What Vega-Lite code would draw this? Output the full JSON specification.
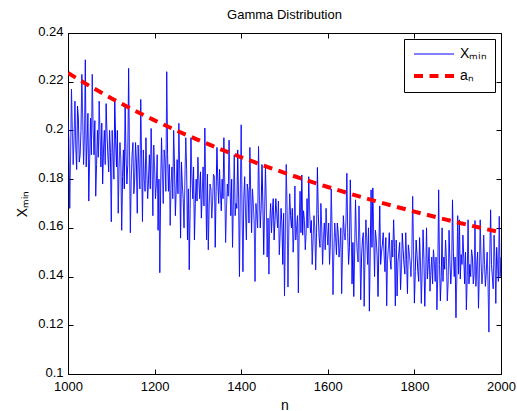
{
  "$schema": "https://vega.github.io/schema/vega-lite/v6.json",
  "width": 433,
  "height": 341,
  "autosize": {"type": "none"},
  "padding": {"left": 68, "top": 33, "right": 16, "bottom": 37},
  "background": "white",
  "title": {"text": "Gamma Distribution", "fontSize": 13, "fontWeight": "normal", "font": "Liberation Sans", "color": "black", "offset": 3},
  "config": {
    "view": {"stroke": "black", "strokeWidth": 1},
    "font": "Liberation Sans",
    "axis": {
      "grid": false,
      "domainColor": "black",
      "tickColor": "black",
      "tickSize": -5,
      "labelPadding": 10,
      "labelFlush": false,
      "labelFont": "Liberation Sans",
      "labelFontSize": 13,
      "labelColor": "black",
      "titleFont": "Liberation Sans",
      "titleFontSize": 14,
      "titleFontWeight": "normal",
      "titleColor": "black"
    }
  },
  "data": {"values": [
    {"n":1000,"v":0.205,"s":"x"},{"n":1004,"v":0.168,"s":"x"},{"n":1008,"v":0.217,"s":"x"},{"n":1012,"v":0.186,"s":"x"},{"n":1016,"v":0.212,"s":"x"},{"n":1020,"v":0.184,"s":"x"},{"n":1024,"v":0.205,"s":"x"},{"n":1028,"v":0.19,"s":"x"},{"n":1032,"v":0.223,"s":"x"},{"n":1036,"v":0.186,"s":"x"},
    {"n":1040,"v":0.229,"s":"x"},{"n":1044,"v":0.195,"s":"x"},{"n":1048,"v":0.171,"s":"x"},{"n":1052,"v":0.205,"s":"x"},{"n":1056,"v":0.223,"s":"x"},{"n":1060,"v":0.19,"s":"x"},{"n":1064,"v":0.173,"s":"x"},{"n":1068,"v":0.2,"s":"x"},{"n":1072,"v":0.212,"s":"x"},{"n":1076,"v":0.185,"s":"x"},
    {"n":1080,"v":0.178,"s":"x"},{"n":1084,"v":0.2,"s":"x"},{"n":1088,"v":0.211,"s":"x"},{"n":1092,"v":0.19,"s":"x"},{"n":1096,"v":0.2,"s":"x"},{"n":1100,"v":0.1625,"s":"x"},{"n":1104,"v":0.19,"s":"x"},{"n":1108,"v":0.2125,"s":"x"},{"n":1112,"v":0.185,"s":"x"},{"n":1116,"v":0.166,"s":"x"},
    {"n":1120,"v":0.195,"s":"x"},{"n":1124,"v":0.159,"s":"x"},{"n":1128,"v":0.192,"s":"x"},{"n":1132,"v":0.21,"s":"x"},{"n":1136,"v":0.178,"s":"x"},{"n":1140,"v":0.2255,"s":"x"},{"n":1144,"v":0.158,"s":"x"},{"n":1148,"v":0.19,"s":"x"},{"n":1152,"v":0.174,"s":"x"},{"n":1156,"v":0.195,"s":"x"},
    {"n":1160,"v":0.166,"s":"x"},{"n":1164,"v":0.185,"s":"x"},{"n":1168,"v":0.2127,"s":"x"},{"n":1172,"v":0.1626,"s":"x"},{"n":1176,"v":0.18,"s":"x"},{"n":1180,"v":0.197,"s":"x"},{"n":1184,"v":0.172,"s":"x"},{"n":1188,"v":0.19,"s":"x"},{"n":1192,"v":0.2008,"s":"x"},{"n":1196,"v":0.165,"s":"x"},
    {"n":1200,"v":0.185,"s":"x"},{"n":1204,"v":0.178,"s":"x"},{"n":1208,"v":0.159,"s":"x"},{"n":1212,"v":0.1416,"s":"x"},{"n":1216,"v":0.197,"s":"x"},{"n":1220,"v":0.17,"s":"x"},{"n":1224,"v":0.188,"s":"x"},{"n":1228,"v":0.2241,"s":"x"},{"n":1232,"v":0.175,"s":"x"},{"n":1236,"v":0.161,"s":"x"},
    {"n":1240,"v":0.185,"s":"x"},{"n":1244,"v":0.2,"s":"x"},{"n":1248,"v":0.165,"s":"x"},{"n":1252,"v":0.188,"s":"x"},{"n":1256,"v":0.2029,"s":"x"},{"n":1260,"v":0.1558,"s":"x"},{"n":1264,"v":0.178,"s":"x"},{"n":1268,"v":0.16,"s":"x"},{"n":1272,"v":0.197,"s":"x"},{"n":1276,"v":0.155,"s":"x"},
    {"n":1280,"v":0.1428,"s":"x"},{"n":1284,"v":0.197,"s":"x"},{"n":1288,"v":0.172,"s":"x"},{"n":1292,"v":0.155,"s":"x"},{"n":1296,"v":0.18,"s":"x"},{"n":1300,"v":0.189,"s":"x"},{"n":1304,"v":0.172,"s":"x"},{"n":1308,"v":0.164,"s":"x"},{"n":1312,"v":0.185,"s":"x"},{"n":1316,"v":0.201,"s":"x"},
    {"n":1320,"v":0.155,"s":"x"},{"n":1324,"v":0.151,"s":"x"},{"n":1328,"v":0.178,"s":"x"},{"n":1332,"v":0.164,"s":"x"},{"n":1336,"v":0.182,"s":"x"},{"n":1340,"v":0.152,"s":"x"},{"n":1344,"v":0.193,"s":"x"},{"n":1348,"v":0.17,"s":"x"},{"n":1352,"v":0.174,"s":"x"},{"n":1356,"v":0.18,"s":"x"},
    {"n":1360,"v":0.197,"s":"x"},{"n":1364,"v":0.154,"s":"x"},{"n":1368,"v":0.178,"s":"x"},{"n":1372,"v":0.196,"s":"x"},{"n":1376,"v":0.165,"s":"x"},{"n":1380,"v":0.152,"s":"x"},{"n":1384,"v":0.19,"s":"x"},{"n":1388,"v":0.17,"s":"x"},{"n":1392,"v":0.192,"s":"x"},{"n":1396,"v":0.14,"s":"x"},
    {"n":1400,"v":0.2023,"s":"x"},{"n":1404,"v":0.142,"s":"x"},{"n":1408,"v":0.181,"s":"x"},{"n":1412,"v":0.155,"s":"x"},{"n":1416,"v":0.175,"s":"x"},{"n":1420,"v":0.193,"s":"x"},{"n":1424,"v":0.158,"s":"x"},{"n":1428,"v":0.17,"s":"x"},{"n":1432,"v":0.138,"s":"x"},{"n":1436,"v":0.165,"s":"x"},
    {"n":1440,"v":0.1934,"s":"x"},{"n":1444,"v":0.16,"s":"x"},{"n":1448,"v":0.186,"s":"x"},{"n":1452,"v":0.149,"s":"x"},{"n":1456,"v":0.1852,"s":"x"},{"n":1460,"v":0.148,"s":"x"},{"n":1464,"v":0.141,"s":"x"},{"n":1468,"v":0.17,"s":"x"},{"n":1472,"v":0.167,"s":"x"},{"n":1476,"v":0.155,"s":"x"},
    {"n":1480,"v":0.172,"s":"x"},{"n":1484,"v":0.16,"s":"x"},{"n":1488,"v":0.149,"s":"x"},{"n":1492,"v":0.168,"s":"x"},{"n":1496,"v":0.145,"s":"x"},{"n":1500,"v":0.132,"s":"x"},{"n":1504,"v":0.186,"s":"x"},{"n":1508,"v":0.1357,"s":"x"},{"n":1512,"v":0.174,"s":"x"},{"n":1516,"v":0.16,"s":"x"},
    {"n":1520,"v":0.15,"s":"x"},{"n":1524,"v":0.1772,"s":"x"},{"n":1528,"v":0.16,"s":"x"},{"n":1532,"v":0.1333,"s":"x"},{"n":1536,"v":0.175,"s":"x"},{"n":1540,"v":0.1817,"s":"x"},{"n":1544,"v":0.167,"s":"x"},{"n":1548,"v":0.151,"s":"x"},{"n":1552,"v":0.172,"s":"x"},{"n":1556,"v":0.181,"s":"x"},
    {"n":1560,"v":0.158,"s":"x"},{"n":1564,"v":0.145,"s":"x"},{"n":1568,"v":0.165,"s":"x"},{"n":1572,"v":0.1428,"s":"x"},{"n":1576,"v":0.1848,"s":"x"},{"n":1580,"v":0.156,"s":"x"},{"n":1584,"v":0.17,"s":"x"},{"n":1588,"v":0.145,"s":"x"},{"n":1592,"v":0.162,"s":"x"},{"n":1596,"v":0.168,"s":"x"},
    {"n":1600,"v":0.153,"s":"x"},{"n":1604,"v":0.145,"s":"x"},{"n":1608,"v":0.176,"s":"x"},{"n":1612,"v":0.1326,"s":"x"},{"n":1616,"v":0.162,"s":"x"},{"n":1620,"v":0.149,"s":"x"},{"n":1624,"v":0.158,"s":"x"},{"n":1628,"v":0.152,"s":"x"},{"n":1632,"v":0.133,"s":"x"},{"n":1636,"v":0.165,"s":"x"},
    {"n":1640,"v":0.155,"s":"x"},{"n":1644,"v":0.1824,"s":"x"},{"n":1648,"v":0.145,"s":"x"},{"n":1652,"v":0.1797,"s":"x"},{"n":1656,"v":0.137,"s":"x"},{"n":1660,"v":0.1318,"s":"x"},{"n":1664,"v":0.1715,"s":"x"},{"n":1668,"v":0.15,"s":"x"},{"n":1672,"v":0.169,"s":"x"},{"n":1676,"v":0.1305,"s":"x"},
    {"n":1680,"v":0.155,"s":"x"},{"n":1684,"v":0.1278,"s":"x"},{"n":1688,"v":0.1633,"s":"x"},{"n":1692,"v":0.145,"s":"x"},{"n":1696,"v":0.1258,"s":"x"},{"n":1700,"v":0.1756,"s":"x"},{"n":1704,"v":0.1764,"s":"x"},{"n":1708,"v":0.14,"s":"x"},{"n":1712,"v":0.155,"s":"x"},{"n":1716,"v":0.1318,"s":"x"},
    {"n":1720,"v":0.169,"s":"x"},{"n":1724,"v":0.15,"s":"x"},{"n":1728,"v":0.158,"s":"x"},{"n":1732,"v":0.142,"s":"x"},{"n":1736,"v":0.128,"s":"x"},{"n":1740,"v":0.152,"s":"x"},{"n":1744,"v":0.147,"s":"x"},{"n":1748,"v":0.155,"s":"x"},{"n":1752,"v":0.1633,"s":"x"},{"n":1756,"v":0.128,"s":"x"},
    {"n":1760,"v":0.132,"s":"x"},{"n":1764,"v":0.15,"s":"x"},{"n":1768,"v":0.1346,"s":"x"},{"n":1772,"v":0.1578,"s":"x"},{"n":1776,"v":0.145,"s":"x"},{"n":1780,"v":0.158,"s":"x"},{"n":1784,"v":0.133,"s":"x"},{"n":1788,"v":0.15,"s":"x"},{"n":1792,"v":0.14,"s":"x"},{"n":1796,"v":0.1729,"s":"x"},
    {"n":1800,"v":0.1291,"s":"x"},{"n":1804,"v":0.155,"s":"x"},{"n":1808,"v":0.142,"s":"x"},{"n":1812,"v":0.156,"s":"x"},{"n":1816,"v":0.129,"s":"x"},{"n":1820,"v":0.1592,"s":"x"},{"n":1824,"v":0.1278,"s":"x"},{"n":1828,"v":0.16,"s":"x"},{"n":1832,"v":0.145,"s":"x"},{"n":1836,"v":0.134,"s":"x"},
    {"n":1840,"v":0.148,"s":"x"},{"n":1844,"v":0.151,"s":"x"},{"n":1848,"v":0.138,"s":"x"},{"n":1852,"v":0.1264,"s":"x"},{"n":1856,"v":0.1756,"s":"x"},{"n":1860,"v":0.13,"s":"x"},{"n":1864,"v":0.16,"s":"x"},{"n":1868,"v":0.148,"s":"x"},{"n":1872,"v":0.155,"s":"x"},{"n":1876,"v":0.13,"s":"x"},
    {"n":1880,"v":0.159,"s":"x"},{"n":1884,"v":0.137,"s":"x"},{"n":1888,"v":0.1715,"s":"x"},{"n":1892,"v":0.14,"s":"x"},{"n":1896,"v":0.1231,"s":"x"},{"n":1900,"v":0.165,"s":"x"},{"n":1904,"v":0.1633,"s":"x"},{"n":1908,"v":0.149,"s":"x"},{"n":1912,"v":0.157,"s":"x"},{"n":1916,"v":0.137,"s":"x"},
    {"n":1920,"v":0.1264,"s":"x"},{"n":1924,"v":0.1633,"s":"x"},{"n":1928,"v":0.145,"s":"x"},{"n":1932,"v":0.151,"s":"x"},{"n":1936,"v":0.137,"s":"x"},{"n":1940,"v":0.163,"s":"x"},{"n":1944,"v":0.145,"s":"x"},{"n":1948,"v":0.127,"s":"x"},{"n":1952,"v":0.1633,"s":"x"},{"n":1956,"v":0.137,"s":"x"},
    {"n":1960,"v":0.157,"s":"x"},{"n":1964,"v":0.136,"s":"x"},{"n":1968,"v":0.15,"s":"x"},{"n":1972,"v":0.1172,"s":"x"},{"n":1976,"v":0.1674,"s":"x"},{"n":1980,"v":0.14,"s":"x"},{"n":1984,"v":0.157,"s":"x"},{"n":1988,"v":0.129,"s":"x"},{"n":1992,"v":0.145,"s":"x"},{"n":1996,"v":0.1647,"s":"x"},
    {"n":2000,"v":0.148,"s":"x"},
    {"n":1002,"v":0.196,"s":"x"},{"n":1006,"v":0.19,"s":"x"},{"n":1010,"v":0.2,"s":"x"},{"n":1014,"v":0.197,"s":"x"},{"n":1018,"v":0.193,"s":"x"},{"n":1022,"v":0.21,"s":"x"},{"n":1026,"v":0.187,"s":"x"},{"n":1030,"v":0.2,"s":"x"},{"n":1034,"v":0.205,"s":"x"},{"n":1038,"v":0.198,"s":"x"},
    {"n":1042,"v":0.185,"s":"x"},{"n":1046,"v":0.207,"s":"x"},{"n":1050,"v":0.188,"s":"x"},{"n":1054,"v":0.19,"s":"x"},{"n":1058,"v":0.201,"s":"x"},{"n":1062,"v":0.204,"s":"x"},{"n":1066,"v":0.186,"s":"x"},{"n":1070,"v":0.189,"s":"x"},{"n":1074,"v":0.198,"s":"x"},{"n":1078,"v":0.203,"s":"x"},
    {"n":1082,"v":0.192,"s":"x"},{"n":1086,"v":0.186,"s":"x"},{"n":1090,"v":0.199,"s":"x"},{"n":1094,"v":0.183,"s":"x"},{"n":1098,"v":0.191,"s":"x"},{"n":1102,"v":0.2,"s":"x"},{"n":1106,"v":0.18,"s":"x"},{"n":1110,"v":0.196,"s":"x"},{"n":1114,"v":0.2,"s":"x"},{"n":1118,"v":0.185,"s":"x"},
    {"n":1122,"v":0.188,"s":"x"},{"n":1126,"v":0.181,"s":"x"},{"n":1130,"v":0.176,"s":"x"},{"n":1134,"v":0.19,"s":"x"},{"n":1138,"v":0.186,"s":"x"},{"n":1142,"v":0.192,"s":"x"},{"n":1146,"v":0.18,"s":"x"},{"n":1150,"v":0.195,"s":"x"},{"n":1154,"v":0.18,"s":"x"},{"n":1158,"v":0.187,"s":"x"},
    {"n":1162,"v":0.194,"s":"x"},{"n":1166,"v":0.176,"s":"x"},{"n":1170,"v":0.188,"s":"x"},{"n":1174,"v":0.192,"s":"x"},{"n":1178,"v":0.175,"s":"x"},{"n":1182,"v":0.183,"s":"x"},{"n":1186,"v":0.18,"s":"x"},{"n":1190,"v":0.176,"s":"x"},{"n":1194,"v":0.186,"s":"x"},{"n":1198,"v":0.194,"s":"x"},
    {"n":1202,"v":0.172,"s":"x"},{"n":1206,"v":0.19,"s":"x"},{"n":1210,"v":0.18,"s":"x"},{"n":1214,"v":0.176,"s":"x"},{"n":1218,"v":0.183,"s":"x"},{"n":1222,"v":0.192,"s":"x"},{"n":1226,"v":0.175,"s":"x"},{"n":1230,"v":0.19,"s":"x"},{"n":1234,"v":0.186,"s":"x"},{"n":1238,"v":0.178,"s":"x"},
    {"n":1242,"v":0.172,"s":"x"},{"n":1246,"v":0.185,"s":"x"},{"n":1250,"v":0.176,"s":"x"},{"n":1254,"v":0.174,"s":"x"},{"n":1258,"v":0.183,"s":"x"},{"n":1262,"v":0.187,"s":"x"},{"n":1266,"v":0.172,"s":"x"},{"n":1270,"v":0.18,"s":"x"},{"n":1274,"v":0.184,"s":"x"},{"n":1278,"v":0.176,"s":"x"},
    {"n":1282,"v":0.168,"s":"x"},{"n":1286,"v":0.182,"s":"x"},{"n":1290,"v":0.185,"s":"x"},{"n":1294,"v":0.17,"s":"x"},{"n":1298,"v":0.171,"s":"x"},{"n":1302,"v":0.18,"s":"x"},{"n":1306,"v":0.183,"s":"x"},{"n":1310,"v":0.174,"s":"x"},{"n":1314,"v":0.169,"s":"x"},{"n":1318,"v":0.179,"s":"x"},
    {"n":1322,"v":0.182,"s":"x"},{"n":1326,"v":0.169,"s":"x"},{"n":1330,"v":0.176,"s":"x"},{"n":1334,"v":0.171,"s":"x"},{"n":1338,"v":0.181,"s":"x"},{"n":1342,"v":0.175,"s":"x"},{"n":1346,"v":0.179,"s":"x"},{"n":1350,"v":0.184,"s":"x"},{"n":1354,"v":0.167,"s":"x"},{"n":1358,"v":0.172,"s":"x"},
    {"n":1362,"v":0.178,"s":"x"},{"n":1366,"v":0.168,"s":"x"},{"n":1370,"v":0.173,"s":"x"},{"n":1374,"v":0.178,"s":"x"},{"n":1378,"v":0.18,"s":"x"},{"n":1382,"v":0.171,"s":"x"},{"n":1386,"v":0.165,"s":"x"},{"n":1390,"v":0.168,"s":"x"},{"n":1394,"v":0.172,"s":"x"},{"n":1398,"v":0.176,"s":"x"},
    {"n":1402,"v":0.166,"s":"x"},{"n":1406,"v":0.172,"s":"x"},{"n":1410,"v":0.166,"s":"x"},{"n":1414,"v":0.178,"s":"x"},{"n":1418,"v":0.162,"s":"x"},{"n":1422,"v":0.174,"s":"x"},{"n":1426,"v":0.176,"s":"x"},{"n":1430,"v":0.162,"s":"x"},{"n":1434,"v":0.17,"s":"x"},{"n":1438,"v":0.16,"s":"x"},
    {"n":1442,"v":0.173,"s":"x"},{"n":1446,"v":0.168,"s":"x"},{"n":1450,"v":0.171,"s":"x"},{"n":1454,"v":0.166,"s":"x"},{"n":1458,"v":0.17,"s":"x"},{"n":1462,"v":0.164,"s":"x"},{"n":1466,"v":0.163,"s":"x"},{"n":1470,"v":0.158,"s":"x"},{"n":1474,"v":0.172,"s":"x"},{"n":1478,"v":0.163,"s":"x"},
    {"n":1482,"v":0.166,"s":"x"},{"n":1486,"v":0.171,"s":"x"},{"n":1490,"v":0.158,"s":"x"},{"n":1494,"v":0.162,"s":"x"},{"n":1498,"v":0.166,"s":"x"},{"n":1502,"v":0.158,"s":"x"},{"n":1506,"v":0.167,"s":"x"},{"n":1510,"v":0.16,"s":"x"},{"n":1514,"v":0.165,"s":"x"},{"n":1518,"v":0.168,"s":"x"},
    {"n":1522,"v":0.158,"s":"x"},{"n":1526,"v":0.155,"s":"x"},{"n":1530,"v":0.165,"s":"x"},{"n":1534,"v":0.162,"s":"x"},{"n":1538,"v":0.158,"s":"x"},{"n":1542,"v":0.157,"s":"x"},{"n":1546,"v":0.163,"s":"x"},{"n":1550,"v":0.158,"s":"x"},{"n":1554,"v":0.16,"s":"x"},{"n":1558,"v":0.167,"s":"x"},
    {"n":1562,"v":0.163,"s":"x"},{"n":1566,"v":0.155,"s":"x"},{"n":1570,"v":0.16,"s":"x"},{"n":1574,"v":0.158,"s":"x"},{"n":1578,"v":0.166,"s":"x"},{"n":1582,"v":0.152,"s":"x"},{"n":1586,"v":0.16,"s":"x"},{"n":1590,"v":0.156,"s":"x"},{"n":1594,"v":0.151,"s":"x"},{"n":1598,"v":0.159,"s":"x"},
    {"n":1602,"v":0.162,"s":"x"},{"n":1606,"v":0.154,"s":"x"},{"n":1610,"v":0.158,"s":"x"},{"n":1614,"v":0.15,"s":"x"},{"n":1618,"v":0.156,"s":"x"},{"n":1622,"v":0.162,"s":"x"},{"n":1626,"v":0.148,"s":"x"},{"n":1630,"v":0.16,"s":"x"},{"n":1634,"v":0.151,"s":"x"},{"n":1638,"v":0.158,"s":"x"},
    {"n":1642,"v":0.163,"s":"x"},{"n":1646,"v":0.158,"s":"x"},{"n":1650,"v":0.152,"s":"x"},{"n":1654,"v":0.16,"s":"x"},{"n":1658,"v":0.154,"s":"x"},{"n":1662,"v":0.15,"s":"x"},{"n":1666,"v":0.157,"s":"x"},{"n":1670,"v":0.146,"s":"x"},{"n":1674,"v":0.155,"s":"x"},{"n":1678,"v":0.148,"s":"x"},
    {"n":1682,"v":0.158,"s":"x"},{"n":1686,"v":0.15,"s":"x"},{"n":1690,"v":0.155,"s":"x"},{"n":1694,"v":0.16,"s":"x"},{"n":1698,"v":0.151,"s":"x"},{"n":1702,"v":0.152,"s":"x"},{"n":1706,"v":0.157,"s":"x"},{"n":1710,"v":0.159,"s":"x"},{"n":1714,"v":0.148,"s":"x"},{"n":1718,"v":0.153,"s":"x"},
    {"n":1722,"v":0.145,"s":"x"},{"n":1726,"v":0.153,"s":"x"},{"n":1730,"v":0.149,"s":"x"},{"n":1734,"v":0.156,"s":"x"},{"n":1738,"v":0.147,"s":"x"},{"n":1742,"v":0.158,"s":"x"},{"n":1746,"v":0.143,"s":"x"},{"n":1750,"v":0.148,"s":"x"},{"n":1754,"v":0.152,"s":"x"},{"n":1758,"v":0.155,"s":"x"},
    {"n":1762,"v":0.146,"s":"x"},{"n":1766,"v":0.154,"s":"x"},{"n":1770,"v":0.143,"s":"x"},{"n":1774,"v":0.151,"s":"x"},{"n":1778,"v":0.141,"s":"x"},{"n":1782,"v":0.147,"s":"x"},{"n":1786,"v":0.153,"s":"x"},{"n":1790,"v":0.146,"s":"x"},{"n":1794,"v":0.148,"s":"x"},{"n":1798,"v":0.151,"s":"x"},
    {"n":1802,"v":0.142,"s":"x"},{"n":1806,"v":0.149,"s":"x"},{"n":1810,"v":0.138,"s":"x"},{"n":1814,"v":0.146,"s":"x"},{"n":1818,"v":0.143,"s":"x"},{"n":1822,"v":0.147,"s":"x"},{"n":1826,"v":0.14,"s":"x"},{"n":1830,"v":0.139,"s":"x"},{"n":1834,"v":0.152,"s":"x"},{"n":1838,"v":0.142,"s":"x"},
    {"n":1842,"v":0.137,"s":"x"},{"n":1846,"v":0.146,"s":"x"},{"n":1850,"v":0.148,"s":"x"},{"n":1854,"v":0.141,"s":"x"},{"n":1858,"v":0.145,"s":"x"},{"n":1862,"v":0.14,"s":"x"},{"n":1866,"v":0.138,"s":"x"},{"n":1870,"v":0.143,"s":"x"},{"n":1874,"v":0.147,"s":"x"},{"n":1878,"v":0.138,"s":"x"},
    {"n":1882,"v":0.146,"s":"x"},{"n":1886,"v":0.143,"s":"x"},{"n":1890,"v":0.15,"s":"x"},{"n":1894,"v":0.148,"s":"x"},{"n":1898,"v":0.14,"s":"x"},{"n":1902,"v":0.141,"s":"x"},{"n":1906,"v":0.139,"s":"x"},{"n":1910,"v":0.145,"s":"x"},{"n":1914,"v":0.148,"s":"x"},{"n":1918,"v":0.15,"s":"x"},
    {"n":1922,"v":0.14,"s":"x"},{"n":1926,"v":0.137,"s":"x"},{"n":1930,"v":0.14,"s":"x"},{"n":1934,"v":0.148,"s":"x"},{"n":1938,"v":0.141,"s":"x"},{"n":1942,"v":0.136,"s":"x"},{"n":1946,"v":0.15,"s":"x"},{"n":1950,"v":0.141,"s":"x"},{"n":1954,"v":0.146,"s":"x"},{"n":1958,"v":0.142,"s":"x"},
    {"n":1962,"v":0.145,"s":"x"},{"n":1966,"v":0.142,"s":"x"},{"n":1970,"v":0.138,"s":"x"},{"n":1974,"v":0.148,"s":"x"},{"n":1978,"v":0.145,"s":"x"},{"n":1982,"v":0.135,"s":"x"},{"n":1986,"v":0.147,"s":"x"},{"n":1990,"v":0.152,"s":"x"},{"n":1994,"v":0.138,"s":"x"},{"n":1998,"v":0.14,"s":"x"},
    {"n":1000,"v":0.22361,"s":"a"},{"n":1050,"v":0.21822,"s":"a"},{"n":1100,"v":0.2132,"s":"a"},{"n":1150,"v":0.20851,"s":"a"},{"n":1200,"v":0.20412,"s":"a"},{"n":1250,"v":0.2,"s":"a"},{"n":1300,"v":0.19612,"s":"a"},
    {"n":1350,"v":0.19245,"s":"a"},{"n":1400,"v":0.18898,"s":"a"},{"n":1450,"v":0.1857,"s":"a"},{"n":1500,"v":0.18257,"s":"a"},{"n":1550,"v":0.17961,"s":"a"},{"n":1600,"v":0.17678,"s":"a"},{"n":1650,"v":0.17408,"s":"a"},
    {"n":1700,"v":0.1715,"s":"a"},{"n":1750,"v":0.16903,"s":"a"},{"n":1800,"v":0.16667,"s":"a"},{"n":1850,"v":0.1644,"s":"a"},{"n":1900,"v":0.16222,"s":"a"},{"n":1950,"v":0.16013,"s":"a"},{"n":2000,"v":0.15811,"s":"a"}
  ]},
  "layer": [
    {
      "mark": {"type": "line", "clip": true},
      "encoding": {
        "x": {"field": "n", "type": "quantitative",
              "scale": {"domain": [1000, 2000], "nice": false, "zero": false, "padding": 0},
              "axis": {"title": "n", "values": [1000, 1200, 1400, 1600, 1800, 2000], "format": "d", "titlePadding": 5, "labelPadding": 11}},
        "y": {"field": "v", "type": "quantitative",
              "scale": {"domain": [0.1, 0.24], "nice": false, "zero": false, "padding": 0},
              "axis": {"title": "Xₘᵢₙ", "values": [0.1, 0.12, 0.14, 0.16, 0.18, 0.2, 0.22, 0.24], "format": "~g", "titlePadding": 8, "labelOffset": -2}},
        "color": {"field": "s", "type": "nominal",
                  "scale": {"domain": ["x", "a"], "range": ["#0000ff", "#ff0000"]},
                  "legend": {"title": null, "orient": "top-right", "offset": 6, "strokeColor": "black", "fillColor": "white",
                             "padding": 8, "symbolType": "M-1,0H7", "symbolSize": 100, "labelOffset": 34, "rowPadding": 7,
                             "labelFontSize": 14, "labelFont": "Liberation Sans", "labelColor": "black",
                             "labelExpr": "datum.label == 'x' ? 'Xₘᵢₙ' : 'aₙ'"}},
        "strokeDash": {"field": "s", "type": "nominal", "scale": {"domain": ["x", "a"], "range": [[1, 0], [9, 6.5]]}},
        "strokeWidth": {"field": "s", "type": "nominal", "scale": {"domain": ["x", "a"], "range": [1, 4]}}
      }
    },
    {
      "mark": {"type": "line", "opacity": 0},
      "encoding": {
        "x": {"field": "n", "type": "quantitative",
              "scale": {"domain": [1000, 2000], "nice": false, "zero": false, "padding": 0},
              "axis": {"orient": "top", "title": null, "labels": false, "domain": false, "values": [1000, 1200, 1400, 1600, 1800, 2000]}},
        "y": {"field": "v", "type": "quantitative",
              "scale": {"domain": [0.1, 0.24], "nice": false, "zero": false, "padding": 0},
              "axis": {"orient": "right", "title": null, "labels": false, "domain": false, "values": [0.1, 0.12, 0.14, 0.16, 0.18, 0.2, 0.22, 0.24]}}
      }
    }
  ],
  "resolve": {"axis": {"x": "independent", "y": "independent"}}
}
